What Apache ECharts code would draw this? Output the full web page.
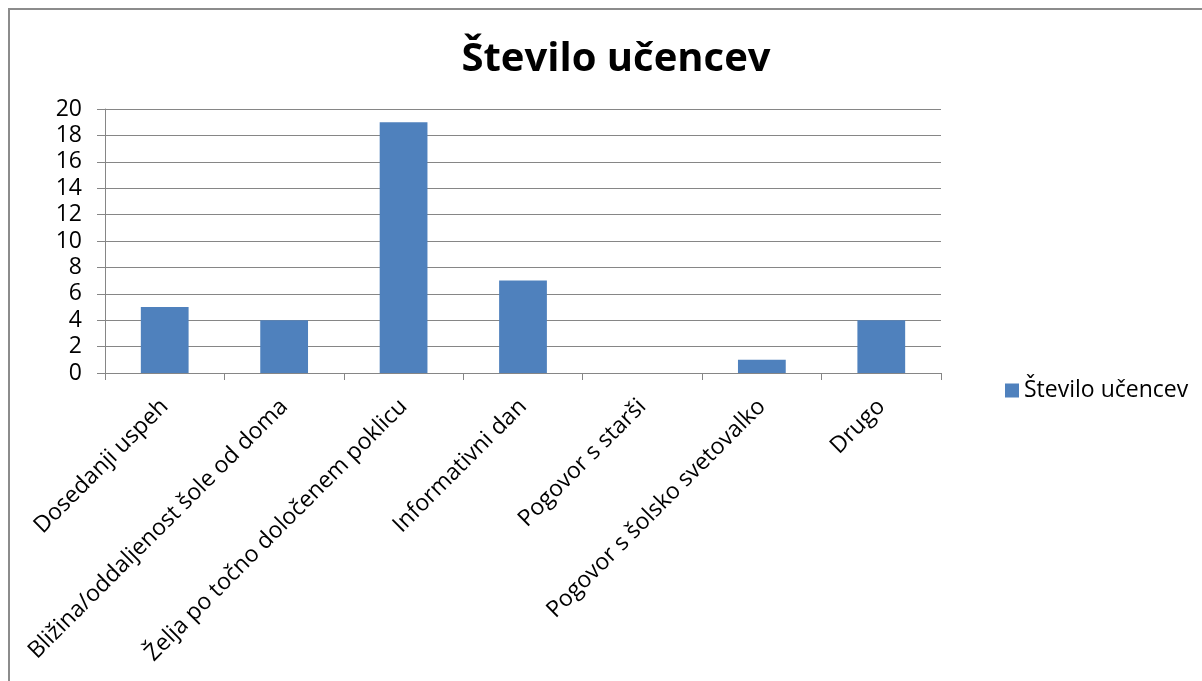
<!DOCTYPE html>
<html><head><meta charset="utf-8">
<script src="https://cdn.jsdelivr.net/npm/echarts@6/dist/echarts.min.js"></script>
<style>html,body{margin:0;padding:0;background:#fff}#c{width:1202px;height:681px}</style>
</head><body><div id="c"></div>
<script>
const titleText = 'Število učencev';
const seriesName = 'Število učencev';
const categories = ['Dosedanji uspeh','Bližina/oddaljenost šole od doma','Želja po točno določenem poklicu','Informativni dan','Pogovor s starši','Pogovor s šolsko svetovalko','Drugo'];
const values = [5,4,19,7,0,1,4];
const yTicks = {min:0, max:20, interval:2};

const FONT = 'Open Sans';
const chart = echarts.init(document.getElementById('c'));
chart.setOption({
  animation:false,
  backgroundColor:'#fff',
  graphic:[{type:'rect',shape:{x:9,y:9,width:1300,height:800},style:{fill:'none',stroke:'#8c8c8c',lineWidth:2},silent:true}],
  title:{text:titleText,left:611,textAlign:'center',top:35,textStyle:{fontFamily:FONT,fontSize:40,fontWeight:'bold',color:'#000'}},
  legend:{data:[seriesName],left:1000,top:374,itemWidth:14,itemHeight:14,itemGap:6,icon:'rect',textStyle:{fontFamily:FONT,fontSize:23,color:'#000'}},
  grid:{left:105,right:261,top:109,bottom:308,containLabel:false},
  xAxis:{type:'category',data:categories,
    axisLine:{lineStyle:{color:'#868686',width:1}},
    axisTick:{show:true,alignWithLabel:false,length:7,lineStyle:{color:'#868686'}},
    axisLabel:{rotate:45,interval:0,margin:30,fontFamily:FONT,fontSize:23,color:'#000'}},
  yAxis:{type:'value',min:yTicks.min,max:yTicks.max,interval:yTicks.interval,
    axisLine:{show:true,lineStyle:{color:'#868686'}},
    axisTick:{show:true,length:8,lineStyle:{color:'#868686'}},
    splitLine:{lineStyle:{color:'#868686',width:1}},
    axisLabel:{margin:23,fontFamily:FONT,fontSize:23,color:'#000'}},
  series:[{name:seriesName,type:'bar',data:values,barWidth:'40%',itemStyle:{color:'#4F81BD'}}]
});
</script></body></html>
